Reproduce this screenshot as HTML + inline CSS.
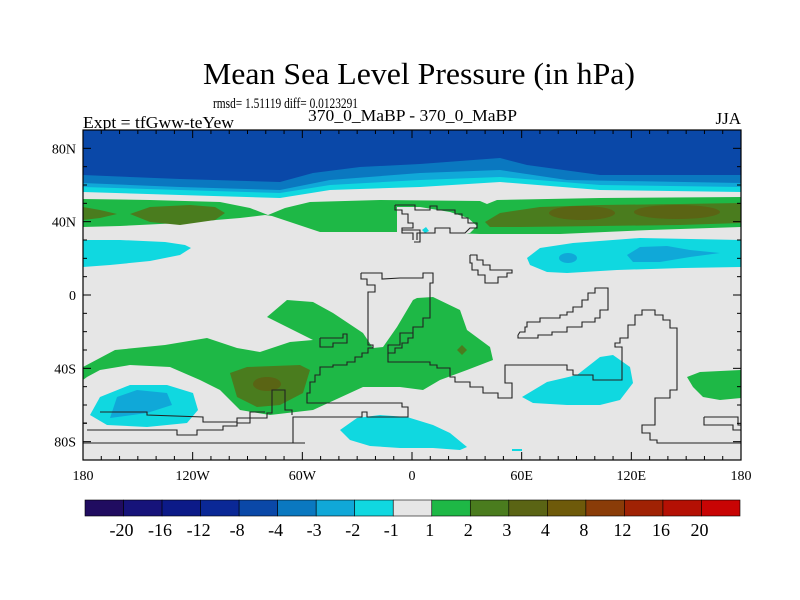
<!DOCTYPE html>
<html><head><meta charset="utf-8">
<style>
html,body{margin:0;padding:0;background:#fff;}
svg{display:block;font-family:"Liberation Serif",serif;}
</style></head>
<body>
<svg id="chart" width="800" height="600" viewBox="0 0 800 600" xmlns="http://www.w3.org/2000/svg">
<rect width="800" height="600" fill="#fff"/>
<text x="419" y="84" font-size="31" text-anchor="middle" textLength="432" lengthAdjust="spacingAndGlyphs">Mean Sea Level Pressure (in hPa)</text>
<text x="213" y="108" font-size="15" textLength="145" lengthAdjust="spacingAndGlyphs">rmsd= 1.51119 diff= 0.0123291</text>
<text x="83" y="128" font-size="17" textLength="151" lengthAdjust="spacingAndGlyphs">Expt = tfGww-teYew</text>
<text x="308" y="121" font-size="17" textLength="209" lengthAdjust="spacingAndGlyphs">370_0_MaBP - 370_0_MaBP</text>
<text x="741" y="124" font-size="17" text-anchor="end">JJA</text>

<defs><clipPath id="pc"><rect x="83" y="130" width="658" height="330"/></clipPath></defs>
<g clip-path="url(#pc)">
  <rect x="83" y="130" width="658" height="330" fill="#e6e6e6"/>
  <path fill="#10d8e0" d="M83,130 L741,130 L741,192 L600,190 L500,182 L420,187 L330,190 L280,198 L180,195 L83,192 Z"/>
  <path fill="#10a8d8" d="M83,130 L741,130 L741,187 L600,185 L500,177 L420,180 L330,185 L280,193 L180,190 L83,187 Z"/>
  <path fill="#0a78c0" d="M83,130 L741,130 L741,183 L567,180 L500,170 L420,173 L330,180 L280,190 L180,187 L83,183 Z"/>
  <path fill="#0a48a8" d="M83,130 L741,130 L741,175 L600,175 L527,165 L500,158 L420,164 L360,167 L313,173 L280,182 L180,179 L83,175 Z"/>

  <path fill="#1eb846" d="M83,199 L150,200 L220,202 L250,208 L268,215 L285,208 L310,202 L380,200 L480,201 L487,204 L497,200 L600,198 L741,197 L741,227 L650,230 L560,234 L480,234 L420,232 L320,232 L290,222 L272,216 L265,215 L240,218 L180,223 L120,226 L83,227 Z"/>
  <path fill="#e6e6e6" d="M397,207 L420,207 L450,212 L468,218 L477,226 L470,233 L450,236 L397,236 Z"/>
  <path fill="#4a7c1e" d="M83,207 L100,210 L117,214 L100,218 L83,220 Z"/>
  <path fill="#4a7c1e" d="M130,214 L150,207 L190,205 L215,207 L225,213 L215,220 L180,225 L150,222 Z"/>
  <path fill="#4a7c1e" d="M485,222 L500,213 L540,207 L600,205 L680,204 L741,203 L741,223 L680,225 L600,226 L520,227 L490,227 Z"/>
  <ellipse cx="582" cy="213" rx="33" ry="7" fill="#5a6414"/>
  <ellipse cx="677" cy="212" rx="43" ry="7" fill="#5a6414"/>
  <path fill="#10d8e0" d="M422,230 L426,227 L429,231 L425,233 Z"/>

  <path fill="#10d8e0" d="M83,240 L120,240 L165,242 L185,245 L191,248 L180,255 L150,261 L110,265 L83,267 Z"/>
  <path fill="#10d8e0" d="M527,258 L540,248 L573,243 L640,238 L741,240 L741,267 L683,268 L617,270 L567,273 L547,272 L530,265 Z"/>
  <ellipse cx="568" cy="258" rx="9" ry="5" fill="#10a8d8"/>
  <path fill="#10a8d8" d="M627,255 L640,247 L667,246 L690,250 L720,253 L690,257 L660,262 L633,262 Z"/>

  <path fill="#1eb846" d="M83,367 L115,350 L165,345 L207,338 L237,348 L260,352 L290,342 L313,340 L267,317 L287,300 L313,302 L333,313 L363,333 L373,348 L383,347 L397,327 L413,300 L417,298 L433,297 L460,310 L467,330 L490,347 L493,360 L467,370 L440,380 L423,390 L400,387 L363,387 L313,410 L270,415 L240,410 L220,390 L200,380 L170,367 L130,365 L100,370 L87,377 L83,380 Z"/>
  <path fill="#4a7c1e" d="M230,373 L247,367 L300,365 L310,370 L303,393 L280,405 L257,407 L237,397 Z"/>
  <ellipse cx="267" cy="384" rx="14" ry="7" fill="#5a6414"/>
  <path fill="#4a7c1e" d="M457,350 L462,345 L467,350 L462,355 Z"/>
  <path fill="#1eb846" d="M687,377 L700,372 L741,370 L741,398 L720,400 L703,397 L693,387 Z"/>

  <path fill="#10d8e0" d="M90,415 L100,397 L130,385 L167,385 L193,393 L198,410 L187,423 L147,427 L107,425 Z"/>
  <path fill="#10a8d8" d="M110,418 L117,397 L137,390 L167,393 L172,405 L147,413 Z"/>
  <path fill="#10d8e0" d="M340,430 L357,418 L380,415 L407,417 L433,425 L450,433 L467,447 L460,450 L433,448 L400,448 L370,446 L350,440 Z"/>
  <path fill="#10d8e0" d="M522,397 L547,382 L577,375 L600,357 L613,355 L630,367 L633,383 L620,400 L600,405 L567,405 L533,403 Z"/>
  <rect x="512" y="449" width="10" height="2" fill="#10d8e0"/>

  <g fill="none" stroke="#222" stroke-width="1.1">
    <polyline points="361,273 361,279 367,279 367,285 375,285 375,292 368,292 368,345 373,345 373,348 368,348 368,353 362,353 362,357 355,357 355,362 347,362 347,365 333,365 333,367 320,367 320,375 315,375 315,382 310,382 310,393 307,393 307,403 313,403 402,403 402,407 408,407 408,417 367,417 367,412 362,412 362,417 293,417 293,443 305,443"/>
    <polyline points="361,273 382,273 382,279 400,278 423,278 423,273 433,273 433,283 430,283 430,318 423,318 423,327 413,327 413,333 400,333 400,345 388,345 388,353 395,353 395,348 402,348 402,343 408,343 408,338 413,338 413,333"/>
    <polyline points="388,353 388,362 430,362 430,365 437,365 437,368 450,368 450,377 455,377 455,382 470,382 470,387 483,387 483,393 498,393 498,398 512,398 512,383 505,383 505,365 567,365 567,370 573,370 573,375 593,375 593,380 622,380 622,347 615,347 615,343 620,343 620,338 628,338 628,325 635,325 635,315 642,315 642,310 655,310 655,315 663,315 663,320 670,320 670,328 677,328 677,390 670,390 670,398 655,398 655,425 642,425 642,433 650,433 650,440 657,440 657,443 741,443"/>
    <polyline points="704,417 738,417 738,425 741,425"/>
    <polyline points="704,417 704,425 733,425 733,430 741,430"/>
    <polyline points="320,338 320,347 333,347 333,343 347,343 347,334 343,334 343,338 320,338"/>
    <polyline points="83,443 293,443"/>
    <polyline points="87,430 177,430 177,435 197,435 197,430 223,430 223,426 237,426 237,423 250,423 250,418 267,418 267,413 272,413 272,390 285,390 285,410 292,410 292,415"/>
    <polyline points="100,412 147,412 147,415 203,417 203,422 237,422 237,418 250,418 250,412 265,412"/>
    <polyline points="83,423 87,423"/>
    <polyline points="470,255 477,255 477,260 483,260 483,265 490,265 490,270 512,270 512,273 507,273 507,277 498,277 498,283 485,283 485,275 478,275 478,270 472,270 472,263 470,263 470,255"/>
    <polyline points="518,335 518,338 538,338 538,335 552,335 552,332 567,332 567,327 582,327 582,322 595,322 595,318 600,318 600,310 608,310 608,288 595,288 595,293 588,293 588,300 582,300 582,307 573,307 573,312 567,312 567,315 560,315 560,318 540,318 540,322 527,322 527,327 525,327 525,332 520,332 518,335"/>
    <polyline points="395,205 415,205 415,210 430,210 430,206 437,206 437,210 455,210 455,214 462,214 462,218 468,218 468,223 477,223 477,228 470,228 465,233 450,233 450,228 435,228 435,233 417,233 417,240"/>
    <polyline points="395,205 395,210 402,210 402,214 408,214 408,223 413,223 413,228 402,228 402,233 413,233 413,240"/>
    <polyline points="402,230 420,230 420,242 414,242"/>
  </g>
</g>
<rect x="83" y="130" width="658" height="330" fill="none" stroke="#000" stroke-width="1.2"/>
<g id="ticks"></g>
<g id="colorbar"></g>

<script>
const xTickLabels = ["180","120W","60W","0","60E","120E","180"];
const xTickLons = [-180,-120,-60,0,60,120,180];
const yTickLabels = ["80N","40N","0","40S","80S"];
const yTickLats = [80,40,0,-40,-80];
const cbLevels = ["-20","-16","-12","-8","-4","-3","-2","-1","1","2","3","4","8","12","16","20"];
const cbColors = ["#200c60","#16137a","#0c1a88","#0a2896","#0a48a8","#0a78c0","#10a8d8","#10d8e0","#e6e6e6","#1eb846","#4a7c1e","#5a6414","#6e5a0a","#8a3c08","#a02204","#b41004","#c80404"];

const NS = "http://www.w3.org/2000/svg";
const X0=83, X1=741, Y0=130, Y1=460;
const xs = lon => X0 + (lon+180)/360*(X1-X0);
const ys = lat => Y0 + (90-lat)/180*(Y1-Y0);
function mk(tag, attrs, parent){ const e=document.createElementNS(NS,tag); for(const k in attrs) e.setAttribute(k,attrs[k]); parent.appendChild(e); return e; }
const tg = document.getElementById('ticks');
for(let lon=-180; lon<=180; lon+=10){
  const major = lon%60===0; const L = major?8:4; const x=xs(lon);
  const t1 = mk('line',{x1:x,y1:Y1,x2:x,y2:Y1-L,stroke:'#000'},tg);
  
  
  const t2 = mk('line',{x1:x,y1:Y0,x2:x,y2:Y0+L,stroke:'#000'},tg);
  
  
}
for(let lat=-90; lat<=90; lat+=10){
  const major = lat%40===0; const L = major?8:4; const y=ys(lat);
  const t1 = mk('line',{x1:X0,y1:y,x2:X0+L,y2:y,stroke:'#000'},tg);
  
  
  const t2 = mk('line',{x1:X1,y1:y,x2:X1-L,y2:y,stroke:'#000'},tg);
  
  
}
xTickLabels.forEach((s,i)=>{
  const t = mk('text',{x:xs(xTickLons[i]),y:480,'font-size':14,'text-anchor':'middle'},tg);
  t.textContent=s;
  
  
});
yTickLabels.forEach((s,i)=>{
  const t = mk('text',{x:76,y:ys(yTickLats[i])+5,'font-size':14,'text-anchor':'end'},tg);
  t.textContent=s;
  
  
});
const cb = document.getElementById('colorbar');
const CX0=85, CX1=740, CY=500, CH=16; const bw=(CX1-CX0)/cbColors.length;
cbColors.forEach((c,i)=>{
  const r = mk('rect',{x:CX0+i*bw,y:CY,width:bw,height:CH,fill:c,stroke:'#000','stroke-width':0.6},cb);
  
  
});
cbLevels.forEach((s,i)=>{
  const t = mk('text',{x:CX0+(i+1)*bw-2,y:536,'font-size':18,'text-anchor':'middle'},cb);
  t.textContent=s;
  
  
});
</script>
</svg>
</body></html>
